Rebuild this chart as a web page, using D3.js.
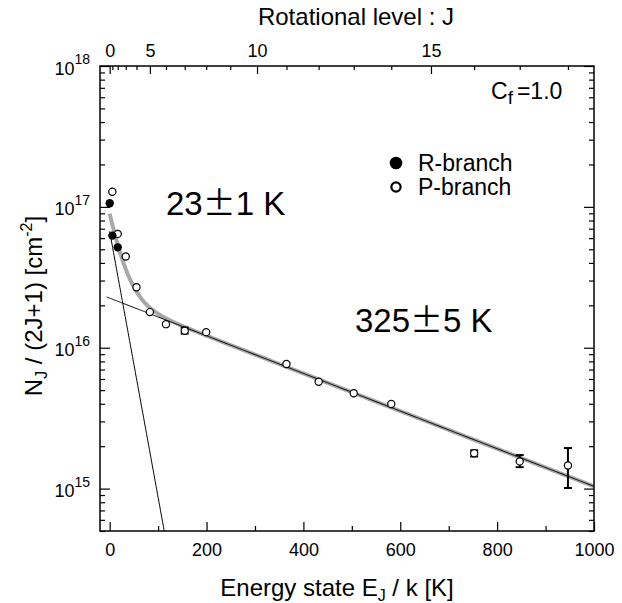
<!DOCTYPE html>
<html>
<head>
<meta charset="utf-8">
<title>CO rotational diagram</title>
<style>
  body { margin: 0; background: #fff; }
  text { font-family: "Liberation Sans", Arial, Helvetica, sans-serif; fill: #000; }
</style>
</head>
<body>
<script src="https://d3js.org/d3.v7.min.js"></script>
<script>
// R-branch (filled)
const rEnergy = [0, 5.5, 16.6];
const rN = [1.06e17, 6.25e16, 5.16e16];

// P-branch (open)
const pEnergy = [5.5, 16.6, 33.2, 55.3, 83.0, 116.2, 154.9, 199.2, 365.0, 431.5, 503.9, 581.4, 752.6, 846.6, 946.2];
const pN = [1.28e17, 6.43e16, 4.44e16, 2.69e16, 1.79e16, 1.47e16, 1.32e16, 1.29e16, 7.67e15, 5.74e15, 4.75e15, 3.99e15, 1.78e15, 1.56e15, 1.46e15];
// error bars (only where drawn)
const errEnergy = [154.9, 752.6, 846.6, 946.2];
const errLo = [1.26e16, 1.69e15, 1.42e15, 1.01e15];
const errHi = [1.39e16, 1.87e15, 1.73e15, 1.94e15];

// two-temperature fit
const fitTemp = [23, 325];
const fitAmp = [6.7e16, 2.25e16];

// rotational levels J = 0..18 and their energies (K)
const levelJ = d3.range(0, 19);
const levelE = [0, 5.5, 16.6, 33.2, 55.3, 83.0, 116.2, 154.9, 199.2, 248.9, 304.2, 365.0, 431.5, 503.9, 581.4, 663.4, 752.6, 846.6, 946.2];

const W = 622, H = 603;
const pLeft = 100, pRight = 594, pTop = 66, pBottom = 531;

const svg = d3.select("body").append("svg")
    .attr("width", W).attr("height", H);

const x = d3.scaleLinear().domain([-20, 1000]).range([pLeft, pRight]);
const y = d3.scaleLog().domain([5e14, 1e18]).range([pBottom, pTop]);

svg.append("clipPath").attr("id", "clip")
  .append("rect").attr("x", pLeft).attr("y", pTop)
  .attr("width", pRight - pLeft).attr("height", pBottom - pTop);

const plot = svg.append("g").attr("clip-path", "url(#clip)");

// fit curves
const eGrid = d3.range(0, 1001, 2);
const line = d3.line().x(d => x(d[0])).y(d => y(d[1]));

plot.append("path")
    .datum(eGrid.map(e => [e, fitAmp[0] * Math.exp(-e / fitTemp[0]) + fitAmp[1] * Math.exp(-e / fitTemp[1])]))
    .attr("d", line)
    .attr("fill", "none").attr("stroke", "#a8a8a8").attr("stroke-width", 4);

plot.append("path")
    .datum(d3.range(0, 160, 1).map(e => [e, fitAmp[0] * Math.exp(-e / fitTemp[0])]))
    .attr("d", line)
    .attr("fill", "none").attr("stroke", "#000").attr("stroke-width", 1);

plot.append("path")
    .datum(d3.range(-6, 1001, 2).map(e => [e, fitAmp[1] * Math.exp(-e / fitTemp[1])]))
    .attr("d", line)
    .attr("fill", "none").attr("stroke", "#000").attr("stroke-width", 1);

// error bars
errEnergy.forEach((e, i) => {
  const g = svg.append("g").attr("stroke", "#000").attr("stroke-width", 2);
  g.append("line").attr("x1", x(e)).attr("x2", x(e)).attr("y1", y(errLo[i])).attr("y2", y(errHi[i]));
  [errLo[i], errHi[i]].forEach(v => {
    g.append("line").attr("x1", x(e) - 4).attr("x2", x(e) + 4).attr("y1", y(v)).attr("y2", y(v));
  });
});

// points
svg.append("g").selectAll("circle")
  .data(pEnergy.map((e, i) => [e, pN[i]]))
  .join("circle")
    .attr("cx", d => x(d[0])).attr("cy", d => y(d[1])).attr("r", 3.6)
    .attr("fill", "#fff").attr("stroke", "#000").attr("stroke-width", 1.2);

svg.append("g").selectAll("circle")
  .data(rEnergy.map((e, i) => [e, rN[i]]))
  .join("circle")
    .attr("cx", d => x(d[0])).attr("cy", d => y(d[1])).attr("r", 4.2)
    .attr("fill", "#000");

// axes (ticks inward)
const bottomAxis = svg.append("g").attr("transform", `translate(0,${pBottom})`)
    .call(d3.axisBottom(x).tickValues([0, 200, 400, 600, 800, 1000]).tickFormat(d3.format("d"))
      .tickSizeInner(-9).tickSizeOuter(0).tickPadding(12));
bottomAxis.select(".domain").remove();
svg.append("g").attr("transform", `translate(0,${pBottom})`)
    .call(d3.axisBottom(x).tickValues([100, 300, 500, 700, 900]).tickSizeInner(-5).tickSizeOuter(0).tickFormat(""))
    .select(".domain").remove();

const decades = [1e15, 1e16, 1e17, 1e18];
const minors = [];
[1e14, 1e15, 1e16, 1e17].forEach(b => d3.range(2, 10).forEach(k => { const v = b * k; if (v >= 5e14 && v < 1e18) minors.push(v); }));

const leftAxis = svg.append("g").attr("transform", `translate(${pLeft},0)`)
    .call(d3.axisLeft(y).tickValues(decades).tickSizeInner(-10).tickSizeOuter(0).tickPadding(10).tickFormat(() => "10"));
leftAxis.select(".domain").remove();
leftAxis.selectAll(".tick text")
    .attr("font-size", 18).attr("dy", "0.45em")
  .append("tspan").attr("dy", "-0.75em").attr("font-size", 14)
    .text(d => Math.round(Math.log10(d)));
svg.append("g").attr("transform", `translate(${pLeft},0)`)
    .call(d3.axisLeft(y).tickValues(minors).tickSizeInner(-5).tickSizeOuter(0).tickFormat(""))
    .select(".domain").remove();

svg.append("g").attr("transform", `translate(${pRight},0)`)
    .call(d3.axisRight(y).tickValues(decades).tickSizeInner(-10).tickSizeOuter(0).tickFormat(""))
    .select(".domain").remove();
svg.append("g").attr("transform", `translate(${pRight},0)`)
    .call(d3.axisRight(y).tickValues(minors).tickSizeInner(-5).tickSizeOuter(0).tickFormat(""))
    .select(".domain").remove();

// top axis: rotational level J
const topAxis = svg.append("g").attr("transform", `translate(0,${pTop})`)
    .call(d3.axisTop(x).tickValues(levelE.filter((e, j) => j % 5 === 0))
      .tickSizeInner(-8).tickSizeOuter(0).tickPadding(9)
      .tickFormat(e => levelJ[levelE.indexOf(e)]));
topAxis.select(".domain").remove();
svg.append("g").attr("transform", `translate(0,${pTop})`)
    .call(d3.axisTop(x).tickValues(levelE.filter((e, j) => j % 5 !== 0)).tickSizeInner(-4).tickSizeOuter(0).tickFormat(""))
    .select(".domain").remove();

svg.selectAll(".tick line").attr("stroke", "#000").attr("stroke-width", 1.2);
bottomAxis.selectAll(".tick text").attr("font-size", 18);
topAxis.selectAll(".tick text").attr("font-size", 18);
[leftAxis, bottomAxis, topAxis].forEach(a => a.attr("font-family", null));

// frame
svg.append("rect").attr("x", pLeft).attr("y", pTop)
    .attr("width", pRight - pLeft).attr("height", pBottom - pTop)
    .attr("fill", "none").attr("stroke", "#000").attr("stroke-width", 1.5);

// titles
svg.append("text").attr("x", 356).attr("y", 25).attr("text-anchor", "middle")
    .attr("font-size", 24).text("Rotational level : J");

const xl = svg.append("text").attr("x", 337).attr("y", 596).attr("text-anchor", "middle").attr("font-size", 24);
xl.append("tspan").text("Energy state E");
xl.append("tspan").attr("font-size", 16).attr("dy", 5).text("J");
xl.append("tspan").attr("dy", -5).text(" / k [K]");

const yl = svg.append("text").attr("transform", "translate(42,306) rotate(-90)")
    .attr("text-anchor", "middle").attr("font-size", 24);
yl.append("tspan").text("N");
yl.append("tspan").attr("font-size", 16).attr("dy", 5).text("J");
yl.append("tspan").attr("dy", -5).text(" / (2J+1) [cm");
yl.append("tspan").attr("font-size", 16).attr("dy", -10).text("-2");
yl.append("tspan").attr("dy", 10).text("]");

const cf = svg.append("text").attr("x", 491).attr("y", 99).attr("font-size", 23);
cf.append("tspan").text("C");
cf.append("tspan").attr("font-size", 19).attr("dy", 5).text("f");
cf.append("tspan").attr("dy", -5).attr("dx", 4).text("=1.0");

// temperature annotations, with a full-width plus-minus sign
function tempLabel(xp, yp, a, b) {
  const t = svg.append("text").attr("x", xp).attr("y", yp).attr("font-size", 33);
  t.append("tspan").text(a);
  t.append("tspan").attr("font-family", "'Noto Sans CJK JP', 'Liberation Sans', sans-serif").text("±");
  t.append("tspan").text(b);
}
tempLabel(166, 215, "23", "1 K");
tempLabel(355, 332, "325", "5 K");

// legend
svg.append("circle").attr("cx", 396).attr("cy", 163).attr("r", 6.3).attr("fill", "#000");
svg.append("circle").attr("cx", 396).attr("cy", 187).attr("r", 4.6)
    .attr("fill", "#fff").attr("stroke", "#000").attr("stroke-width", 2.2);
svg.append("text").attr("x", 418).attr("y", 171).attr("font-size", 23).text("R-branch");
svg.append("text").attr("x", 418).attr("y", 195).attr("font-size", 23).text("P-branch");
</script>
</body>
</html>
